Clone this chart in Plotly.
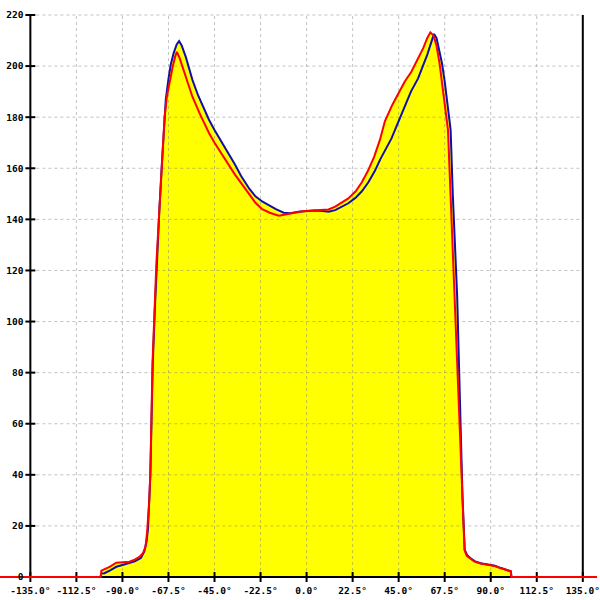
import plotly.graph_objects as go

# ---- data ----
blue_angle = [-150, -100.8, -100.3, -98.8, -96, -93, -90, -86.6, -84, -81, -79.3, -78.2, -77.5, -76.4,
              -75.2, -74.2, -73.3, -72, -70.7, -69.7, -68.8, -67.5, -66.4, -65, -63.5, -62.3, -61, -59,
              -57, -55.8, -53, -50, -47.7, -45, -42.8, -40, -38, -35, -32, -28, -25, -21.7, -18.5, -15,
              -11.2, -8, -4, 0, 4, 8, 10.7, 14, 17, 20.4, 24, 27, 30.2, 33.4, 36, 38.5, 41.5, 45, 48, 51,
              54.5, 57, 59, 61, 62.3, 63.5, 65, 66.2, 67.5, 69, 70.4, 71.5, 72.5, 73.6, 74.9, 76.2, 77.3,
              78.5, 80, 82.1, 85, 88, 90.2, 92, 95, 97, 99.1, 99.8, 100.2, 142]
blue_value = [0, 0, 1.4, 1.5, 2.6, 4.0, 4.7, 5.4, 6.1, 7.4, 10.0, 14, 19, 39,
              83, 104, 123, 143, 162, 176, 187, 195, 200.5, 205, 208.5, 209.8, 208, 203.5,
              198, 194.6, 188.5, 183, 179, 175, 172, 168.5, 166, 161.5, 157, 152, 149, 147, 145.6, 144,
              142.6, 142.4, 143, 143.3, 143.5, 143.3, 143.0, 143.6, 145, 146.3, 148.5, 151, 154.5, 159, 163.5, 167, 171.7, 178.5, 184.5, 190,
              195.2, 200, 204.5, 209.5, 212.6, 211, 206, 201, 194, 184, 175, 149, 128, 110, 70.6, 31.4, 10.6,
              8.5, 7.4, 6.2, 5.4, 5.0, 4.8, 4.4, 3.5, 2.9, 2.5, 2.2, 0, 0]

red_angle = [-150, -100.6, -100.3, -98, -96.3, -93, -90, -86.6, -84, -81.7, -80, -78.7, -77.9, -76.9,
             -76.3, -75.3, -73.4, -70.8, -69.4, -68.3, -67, -65.5, -64.3, -63.4, -62, -60, -58, -55.8,
             -52, -47.7, -45, -40, -35, -30, -25, -21.7, -18, -13.6, -10, -6, -2, 1, 5, 8, 10.7, 14, 17,
             20.4, 24, 27, 30, 33, 35.8, 38.3, 42, 45, 48, 51.2, 54, 57, 59, 60.5, 62, 63.5, 65, 67.5,
             69.1, 70.4, 72.3, 74.3, 76, 77.2, 78.3, 80, 82.1, 85, 88, 90.2, 92, 95, 97, 99.1, 99.8, 100, 142]
red_value = [0, 0, 2.5, 3.2, 4.0, 5.6, 5.9, 6.0, 6.8, 7.9, 9.3, 11.9, 18, 30,
             42, 84, 123, 162, 180, 188, 194, 199.5, 203.5, 205.6, 203, 198, 193, 188,
             181, 173.8, 170, 163.5, 157.5, 152, 146.5, 144, 142.6, 141.4, 142, 142.8, 143.2, 143.4, 143.5, 143.6, 143.9, 145, 146.5,
             148.2, 151, 154.5, 159, 164.5, 171, 178.5, 185, 189.5, 194, 197.8, 202, 207, 211, 213.2, 212, 208, 201, 186,
             175, 149, 110, 70.6, 31.4, 10.6, 8.3, 7.2, 6.0, 5.3, 4.9, 4.7, 4.3, 3.4, 2.9, 2.5, 2.3, 0, 0]

x_ticks = [-135.0, -112.5, -90.0, -67.5, -45.0, -22.5, 0.0, 22.5, 45.0, 67.5, 90.0, 112.5, 135.0]
x_tick_labels = ["-135.0°", "-112.5°", "-90.0°", "-67.5°", "-45.0°", "-22.5°", "0.0°",
                 "22.5°", "45.0°", "67.5°", "90.0°", "112.5°", "135.0°"]
y_ticks = [0, 20, 40, 60, 80, 100, 120, 140, 160, 180, 200, 220]
y_tick_labels = ["0", "20", "40", "60", "80", "100", "120", "140", "160", "180", "200", "220"]

# ---- layout geometry ----
W = H = 600
X_MIN, X_MAX = -149.84, 141.94
Y_MIN, Y_MAX = -9.0, 225.87
px_x = W / (X_MAX - X_MIN)
px_y = H / (Y_MAX - Y_MIN)
TL = 5  # tick half length in px
x_lo, x_hi = x_ticks[0], x_ticks[-1]
y_lo, y_hi = y_ticks[0], y_ticks[-1]

FONT = dict(family="DejaVu Sans Mono", size=9.5, color="black", weight="bold")

fig = go.Figure()

# yellow fills
for ang, val in ((blue_angle, blue_value), (red_angle, red_value)):
    fig.add_trace(go.Scatter(x=ang, y=val, mode="lines", fill="tozeroy",
                             fillcolor="#ffff00", line=dict(width=0, color="#ffff00"),
                             hoverinfo="skip"))

# dashed grid
gx, gy = [], []
for t in x_ticks[1:-1]:
    gx += [t, t, None]
    gy += [y_lo, y_hi, None]
for t in y_ticks[1:]:
    gx += [x_lo, x_hi, None]
    gy += [t, t, None]
fig.add_trace(go.Scatter(x=gx, y=gy, mode="lines",
                         line=dict(color="rgba(120,120,120,0.45)", width=1, dash="3px,3px"),
                         hoverinfo="skip"))

# frame + ticks
fx, fy = [], []
fx += [x_lo, x_lo, None, x_hi, x_hi, None, x_lo, x_hi, None]
fy += [y_lo, y_hi, None, y_lo, y_hi, None, y_lo, y_lo, None]
for t in x_ticks:
    fx += [t, t, None]
    fy += [y_lo - TL / px_y, y_lo + TL / px_y, None]
for t in y_ticks:
    fx += [x_lo - TL / px_x, x_lo + TL / px_x, None]
    fy += [t, t, None]
fig.add_trace(go.Scatter(x=fx, y=fy, mode="lines", line=dict(color="black", width=2),
                         hoverinfo="skip"))

# curves
fig.add_trace(go.Scatter(x=blue_angle, y=blue_value, mode="lines",
                         line=dict(color="#1010a8", width=2), hoverinfo="skip"))
fig.add_trace(go.Scatter(x=red_angle, y=red_value, mode="lines",
                         line=dict(color="#ff0000", width=2), hoverinfo="skip"))

fig.update_layout(
    width=W, height=H, margin=dict(l=0, r=0, t=0, b=0),
    paper_bgcolor="white", plot_bgcolor="white", showlegend=False,
    xaxis=dict(range=[X_MIN, X_MAX], anchor="free", position=(H - 577) / H,
               tickvals=x_ticks, ticktext=x_tick_labels, ticks="outside", ticklen=TL,
               tickcolor="rgba(0,0,0,0)", showgrid=False, zeroline=False, showline=False,
               tickfont=FONT, fixedrange=True, ticklabeloverflow="allow"),
    yaxis=dict(range=[Y_MIN, Y_MAX], anchor="free", position=30.5 / W,
               tickvals=y_ticks, ticktext=y_tick_labels, ticks="outside", ticklen=TL,
               tickcolor="rgba(0,0,0,0)", showgrid=False, zeroline=False, showline=False,
               tickfont=FONT, fixedrange=True, ticklabeloverflow="allow"),
)

fig.write_html("out.html", config={"displayModeBar": False},
               post_script="document.body.style.margin='0';document.body.style.padding='0';")
